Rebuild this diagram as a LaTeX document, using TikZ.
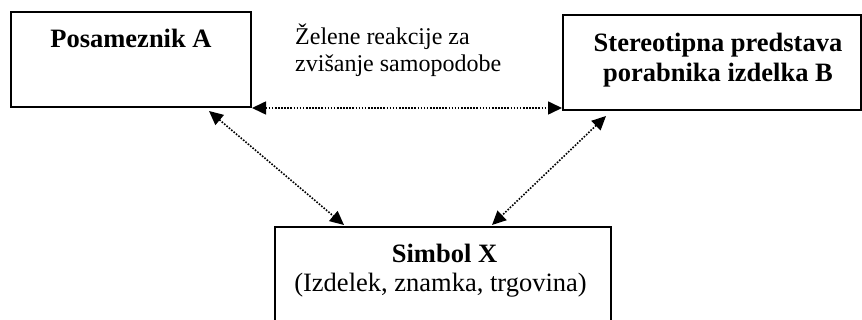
\documentclass[tikz,border=0pt]{standalone}
\usepackage{fontspec}
\setmainfont{Liberation Serif}
\usetikzlibrary{arrows.meta,calc}

\tikzset{
  box/.style={draw, line width=2pt, rectangle, inner sep=0pt},
  boldtxt/.style={inner sep=0pt, anchor=base, font=\fontsize{26.5}{30}\selectfont\bfseries},
  plaintxt/.style={inner sep=0pt, anchor=base, font=\fontsize{26.5}{30}\selectfont},
  notetxt/.style={inner sep=0pt, anchor=base west, font=\fontsize{24}{27}\selectfont},
  link/.style={line width=1.6pt, dash pattern=on 1.6pt off 1.5pt,
    {Triangle[length=14pt,width=13pt]}-{Triangle[length=14pt,width=13pt]}}
}

\begin{document}
\begin{tikzpicture}[x=1pt,y=-1pt]
  \useasboundingbox (0,0) rectangle (862,320);

  % boxes
  \node[box, minimum width=240pt, minimum height=95pt] (A) at (131,59.5) {};
  \node[box, minimum width=298pt, minimum height=95pt] (B) at (712,62.5) {};
  \node[box, minimum width=336pt, minimum height=113pt] (X) at (443,283.5) {};

  % box texts
  \node[boldtxt] (atext) at (131,48) {Posameznik A};
  \node[boldtxt] (btext1) at (718,52) {Stereotipna predstava};
  \node[boldtxt] (btext2) at (718,82) {porabnika izdelka B};
  \node[boldtxt] (xtext1) at (444.5,263) {Simbol X};
  \node[plaintxt] (xtext2) at (440.5,292) {(Izdelek, znamka, trgovina)};

  % note above the horizontal link
  \node[notetxt] (note1) at (295,45) {Želene reakcije za};
  \node[notetxt] (note2) at (295,72) {zvišanje samopodobe};

  % connection points on the boxes
  \coordinate (aend) at ($(A.south west)+(199,3)$);
  \coordinate (xa) at ($(X.north west)+(70,-1)$);
  \coordinate (bend) at ($(B.south west)+(44,5)$);
  \coordinate (xb) at ($(X.north west)+(218,-1)$);

  % links
  \draw[link] (A.south east) -- (A.south east -| B.west);
  \draw[link] (aend) -- (xa);
  \draw[link] (bend) -- (xb);
\end{tikzpicture}
\end{document}
